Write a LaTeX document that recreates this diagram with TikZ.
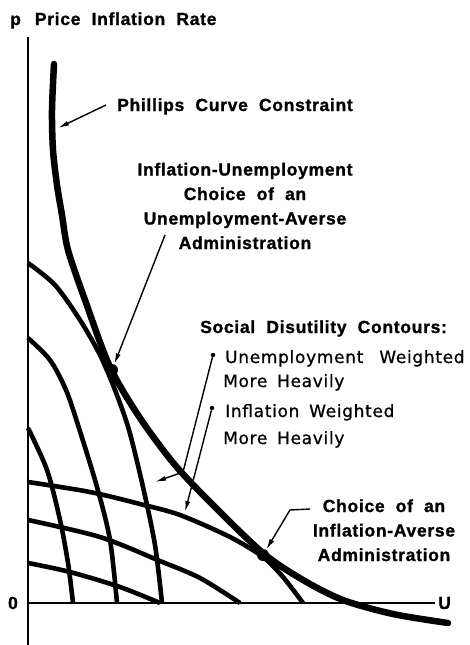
\documentclass[tikz,border=0pt]{standalone}
\usepackage{fontspec}
\setmainfont{Liberation Sans}[LetterSpace=4, WordSpace=2, BoldFeatures={FakeBold=1.2}]
\newfontfamily\subfont{DejaVu Sans}[LetterSpace=4, WordSpace=1.6, FakeBold=0.8]
\usetikzlibrary{arrows.meta, positioning}

\begin{document}
\begin{tikzpicture}[x=1pt, y=-1pt, >={Latex[length=11pt, width=5pt]},
    axis/.style={line width=2.4pt},
    phillips/.style={line width=6.5pt, line cap=round},
    contour/.style={line width=4.6pt},
    pointer/.style={->, line width=1.4pt},
    lab/.style={font=\fontsize{17.5}{24.5}\selectfont\bfseries, align=center, inner sep=0pt},
    sublab/.style={font=\fontsize{17}{24}\subfont, anchor=base west, inner sep=0pt},
    choice/.style={circle, fill, inner sep=0pt, minimum size=12pt},
    tack/.style={circle, fill, inner sep=0pt, minimum size=4.5pt}]
    \useasboundingbox (0,0) rectangle (469,645);

    % axes
    \coordinate (origin) at (28,603);
    \coordinate (ytop) at (28,37);
    \coordinate (ybot) at (28,645);
    \coordinate (xend) at (435,603);
    \draw[axis] (ytop) -- (ybot);
    \draw[axis] (origin) -- (xend);
    \node[lab, left=10pt of origin] (zero) {0};
    \node[lab, right=3pt of xend] (uaxis) {U};
    \node[lab, anchor=base west] (ptitle) at (10,25) {p\hspace{14pt}Price Inflation Rate};

    % contours, unemployment weighted more heavily
    \draw[contour] plot[smooth] coordinates {(28,428) (47,470) (60,520) (68,563) (73,603)};
    \draw[contour] plot[smooth] coordinates {(28,338) (50,360) (66,390) (78,425) (97,487) (110,540) (117,603)};
    \draw[contour] plot[smooth] coordinates {(28,263) (55,285) (80,320) (100,355) (115,390) (129,430) (143,487) (155,545) (162,603)};
    % contours, inflation weighted more heavily
    \draw[contour] plot[smooth] coordinates {(28,482) (90,492) (140,504) (180,515) (230,537) (263,557) (283,577) (303,603)};
    \draw[contour] plot[smooth] coordinates {(28,520) (100,537) (160,561) (200,578) (240,603)};
    \draw[contour] plot[smooth] coordinates {(28,563) (70,572) (120,587) (160,603)};

    % Phillips curve
    \draw[phillips] plot[smooth] coordinates {(54,64) (52,110) (53,150) (57,185) (62,215) (68,250) (85,300) (110,367)
        (140,418) (175,465) (213,505) (263,553) (303,580) (343,600) (393,614) (448,623)};

    % chosen points
    \node[choice] (uaverse) at (112,370) {};
    \node[choice] (iaverse) at (263,555) {};

    % labels
    \node[lab, anchor=base west] (phil) at (117,111) {Phillips Curve Constraint};
    \node[lab, anchor=base] (uachoice) at (245,249)
        {Inflation-Unemployment\\Choice of an\\Unemployment-Averse\\Administration};
    \node[lab, anchor=base west] (contours) at (200,333) {Social Disutility Contours:};
    \node[sublab] (uwt) at (225,363) {Unemployment\hspace{16pt}Weighted};
    \node[sublab] (uwt2) at (223,387) {More Heavily};
    \node[sublab] (iwt) at (225,417) {Inflation Weighted};
    \node[sublab] (iwt2) at (223,444) {More Heavily};
    \node[lab, anchor=base] (iachoice) at (384,561)
        {Choice of an\\Inflation-Averse\\Administration};

    % pointers
    \coordinate (philtip) at (58,128);
    \coordinate (uatail) at (165,235);
    \coordinate (iatail) at (310,509);
    \node[tack] (utack) at (213,355) {};
    \node[tack] (itack) at (212,408) {};
    \draw[pointer] ([xshift=-11pt, yshift=6pt]phil.base west) -- (philtip);
    \draw[pointer] (uatail) -- (uaverse);
    \draw[pointer] (iatail) -- ++(-20,1) -- (iaverse);
    \draw[pointer] (utack) -- (183,472) -- (155,482);
    \draw[pointer] (itack) -- (185,512);
\end{tikzpicture}
\end{document}
